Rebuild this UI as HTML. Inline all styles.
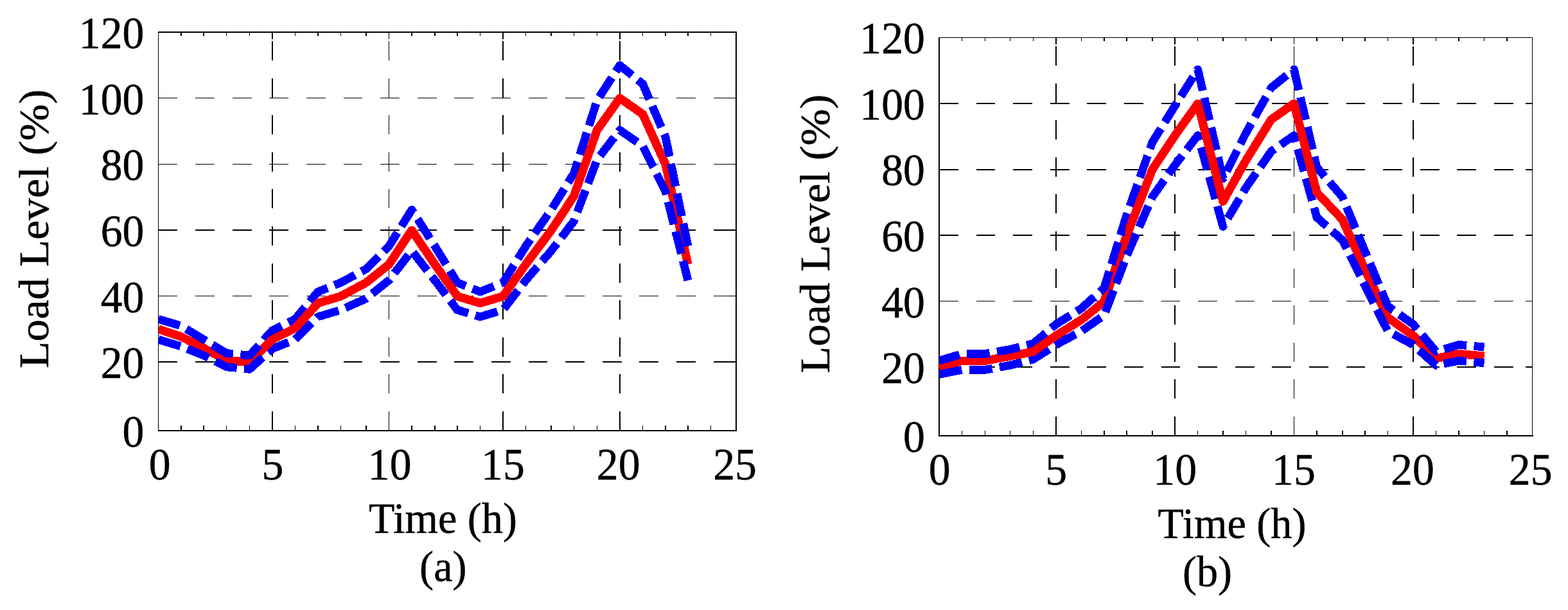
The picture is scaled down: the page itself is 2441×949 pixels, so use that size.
<!DOCTYPE html>
<html lang="en">
<head>
<meta charset="utf-8">
<title>Load Level vs Time</title>
<style>
html,body{margin:0;padding:0;background:#fff;}
body{width:2441px;height:949px;overflow:hidden;}
svg{display:block;}
</style>
</head>
<body>
<svg width="2441" height="949" viewBox="0 0 2441 949" role="img" aria-label="Load level versus time, panels (a) and (b)">
<rect width="2441" height="949" fill="#fff"/>
<g stroke="#000" stroke-dasharray="30 27.6" fill="none" shape-rendering="crispEdges"><line x1="424" y1="670" x2="424" y2="50" stroke-width="2"/><line x1="605.5" y1="670" x2="605.5" y2="50" stroke-width="1"/><line x1="783" y1="670" x2="783" y2="50" stroke-width="2"/><line x1="965" y1="670" x2="965" y2="50" stroke-width="2"/></g>
<g stroke="#000" stroke-dasharray="29.8 27.8" fill="none" shape-rendering="crispEdges"><line x1="246.5" y1="563" x2="1146" y2="563" stroke-width="2"/><line x1="246.5" y1="460.5" x2="1146" y2="460.5" stroke-width="1"/><line x1="246.5" y1="358" x2="1146" y2="358" stroke-width="2"/><line x1="246.5" y1="255.5" x2="1146" y2="255.5" stroke-width="1"/><line x1="246.5" y1="152.5" x2="1146" y2="152.5" stroke-width="1"/></g>
<g stroke="#000" stroke-width="1.5" fill="none" shape-rendering="crispEdges"><line x1="282" y1="670" x2="282" y2="662"/><line x1="282" y1="50" x2="282" y2="55.5"/><line x1="317.2" y1="670" x2="317.2" y2="662"/><line x1="317.2" y1="50" x2="317.2" y2="55.5"/><line x1="352.5" y1="670" x2="352.5" y2="662"/><line x1="352.5" y1="50" x2="352.5" y2="55.5"/><line x1="388.5" y1="670" x2="388.5" y2="662"/><line x1="388.5" y1="50" x2="388.5" y2="55.5"/><line x1="459.5" y1="670" x2="459.5" y2="662"/><line x1="459.5" y1="50" x2="459.5" y2="55.5"/><line x1="495" y1="670" x2="495" y2="662"/><line x1="495" y1="50" x2="495" y2="55.5"/><line x1="530.5" y1="670" x2="530.5" y2="662"/><line x1="530.5" y1="50" x2="530.5" y2="55.5"/><line x1="570" y1="670" x2="570" y2="662"/><line x1="570" y1="50" x2="570" y2="55.5"/><line x1="641" y1="670" x2="641" y2="662"/><line x1="641" y1="50" x2="641" y2="55.5"/><line x1="677" y1="670" x2="677" y2="662"/><line x1="677" y1="50" x2="677" y2="55.5"/><line x1="712" y1="670" x2="712" y2="662"/><line x1="712" y1="50" x2="712" y2="55.5"/><line x1="747.5" y1="670" x2="747.5" y2="662"/><line x1="747.5" y1="50" x2="747.5" y2="55.5"/><line x1="818.4" y1="670" x2="818.4" y2="662"/><line x1="818.4" y1="50" x2="818.4" y2="55.5"/><line x1="858.2" y1="670" x2="858.2" y2="662"/><line x1="858.2" y1="50" x2="858.2" y2="55.5"/><line x1="893.4" y1="670" x2="893.4" y2="662"/><line x1="893.4" y1="50" x2="893.4" y2="55.5"/><line x1="929.5" y1="670" x2="929.5" y2="662"/><line x1="929.5" y1="50" x2="929.5" y2="55.5"/><line x1="1000.5" y1="670" x2="1000.5" y2="662"/><line x1="1000.5" y1="50" x2="1000.5" y2="55.5"/><line x1="1036" y1="670" x2="1036" y2="662"/><line x1="1036" y1="50" x2="1036" y2="55.5"/><line x1="1071" y1="670" x2="1071" y2="662"/><line x1="1071" y1="50" x2="1071" y2="55.5"/><line x1="1106.4" y1="670" x2="1106.4" y2="662"/><line x1="1106.4" y1="50" x2="1106.4" y2="55.5"/></g>
<g stroke="#000" fill="none" shape-rendering="crispEdges"><line x1="424" y1="50" x2="424" y2="60.5" stroke-width="2"/><line x1="424" y1="670" x2="424" y2="659.5" stroke-width="2"/><line x1="605.5" y1="50" x2="605.5" y2="60.5" stroke-width="1"/><line x1="605.5" y1="670" x2="605.5" y2="659.5" stroke-width="1"/><line x1="783" y1="50" x2="783" y2="60.5" stroke-width="2"/><line x1="783" y1="670" x2="783" y2="659.5" stroke-width="2"/><line x1="965" y1="50" x2="965" y2="60.5" stroke-width="2"/><line x1="965" y1="670" x2="965" y2="659.5" stroke-width="2"/><line x1="1146" y1="563" x2="1135.5" y2="563" stroke-width="2"/><line x1="246.5" y1="563" x2="257" y2="563" stroke-width="2"/><line x1="1146" y1="460.5" x2="1135.5" y2="460.5" stroke-width="1"/><line x1="246.5" y1="460.5" x2="257" y2="460.5" stroke-width="1"/><line x1="1146" y1="358" x2="1135.5" y2="358" stroke-width="2"/><line x1="246.5" y1="358" x2="257" y2="358" stroke-width="2"/><line x1="1146" y1="255.5" x2="1135.5" y2="255.5" stroke-width="1"/><line x1="246.5" y1="255.5" x2="257" y2="255.5" stroke-width="1"/><line x1="1146" y1="152.5" x2="1135.5" y2="152.5" stroke-width="1"/><line x1="246.5" y1="152.5" x2="257" y2="152.5" stroke-width="1"/></g>
<g stroke="#000" fill="none" stroke-linecap="square" shape-rendering="crispEdges"><line x1="246.5" y1="50" x2="246.5" y2="670" stroke-width="1"/><line x1="1146" y1="50" x2="1146" y2="670" stroke-width="2"/><line x1="246.5" y1="50" x2="1146" y2="50" stroke-width="2"/><line x1="246.5" y1="670" x2="1146" y2="670" stroke-width="2"/></g>
<clipPath id="top0"><rect x="411" y="50" width="611" height="620"/></clipPath>
<clipPath id="clip0"><rect x="246.5" y="50" width="899.5" height="620"/></clipPath>
<g fill="none" stroke-linejoin="round" stroke-miterlimit="10" shape-rendering="crispEdges" clip-path="url(#clip0)"><polyline points="246.5,511.98 282,523.67 317.2,541.74 352.5,560.17 388.5,563.71 423.9,528.28 459.5,510.56 495,471.59 530.5,460.96 570,439.7 605.4,411.36 641,358.22 677,411.36 712,460.96 747.5,471.59 783,460.96 818.4,411.36 858.2,358.22 893.4,305.07 929.5,202.32 964.9,152.72 1000.5,177.52 1036,255.47 1071,411.36" stroke="#ff0000" stroke-width="13.3"/><polyline points="246.5,496.39 282,507.02 317.2,528.28 352.5,549.54 388.5,553.08 423.9,514.11 459.5,496.39 495,453.88 530.5,439.7 570,418.45 605.4,383.02 641,326.33 677,383.02 712,439.7 747.5,453.88 783,439.7 818.4,383.02 858.2,326.33 893.4,269.64 929.5,156.26 964.9,101.7 1000.5,130.4 1036,212.95 1071,383.02" stroke="#0000ff" stroke-width="12.8" stroke-dasharray="36 11.4" stroke-dashoffset="1"/><polyline points="246.5,528.28 282,538.91 317.2,553.08 352.5,570.8 388.5,574.34 423.9,542.45 459.5,528.28 495,492.85 530.5,482.22 570,464.51 605.4,436.16 641,390.1 677,436.16 712,482.22 747.5,492.85 783,482.22 818.4,436.16 858.2,390.1 893.4,344.04 929.5,248.38 964.9,202.32 1000.5,227.12 1036,297.98 1071,436.16" stroke="#0000ff" stroke-width="12.8" stroke-dasharray="36 11.4" stroke-dashoffset="0"/><polyline points="246.5,511.98 282,523.67 317.2,541.74 352.5,560.17 388.5,563.71 423.9,528.28 459.5,510.56 495,471.59 530.5,460.96 570,439.7 605.4,411.36 641,358.22 677,411.36 712,460.96 747.5,471.59 783,460.96 818.4,411.36 858.2,358.22 893.4,305.07 929.5,202.32 964.9,152.72 1000.5,177.52 1036,255.47 1071,411.36" stroke="#ff0000" stroke-width="13.3" clip-path="url(#top0)"/></g>
<g font-family="'Liberation Serif', 'Times New Roman', Times, serif" fill="#000" stroke="#000" stroke-width="0.5" stroke-linejoin="round"><text transform="translate(248.6 746) scale(0.964 1)" text-anchor="middle" font-size="70.3">0</text><text transform="translate(424.5 746) scale(0.964 1)" text-anchor="middle" font-size="70.3">5</text><text transform="translate(606.7 746) scale(0.964 1)" text-anchor="middle" font-size="70.3">10</text><text transform="translate(783 746) scale(0.964 1)" text-anchor="middle" font-size="70.3">15</text><text transform="translate(962.7 746) scale(0.964 1)" text-anchor="middle" font-size="70.3">20</text><text transform="translate(1144.1 746) scale(0.964 1)" text-anchor="middle" font-size="70.3">25</text><text transform="translate(224.5 695) scale(0.964 1)" text-anchor="end" font-size="70.3">0</text><text transform="translate(224.5 588.3) scale(0.964 1)" text-anchor="end" font-size="70.3">20</text><text transform="translate(224.5 486.4) scale(0.964 1)" text-anchor="end" font-size="70.3">40</text><text transform="translate(224.5 383) scale(0.964 1)" text-anchor="end" font-size="70.3">60</text><text transform="translate(224.5 280) scale(0.964 1)" text-anchor="end" font-size="70.3">80</text><text transform="translate(224.5 178) scale(0.964 1)" text-anchor="end" font-size="70.3">100</text><text transform="translate(224.5 75.3) scale(0.964 1)" text-anchor="end" font-size="70.3">120</text><text transform="translate(689.5 829) scale(0.964 1)" text-anchor="middle" font-size="68.6">Time (h)</text><text transform="translate(689.8 904) scale(0.964 1)" text-anchor="middle" font-size="68.6">(a)</text><text transform="translate(75.3 356) scale(0.964 1) rotate(-90)" text-anchor="middle" font-size="68.6">Load Level (%)</text></g>
<g stroke="#000" stroke-dasharray="30 27.6" fill="none" shape-rendering="crispEdges"><line x1="1644" y1="678" x2="1644" y2="58.5" stroke-width="2"/><line x1="1829" y1="678" x2="1829" y2="58.5" stroke-width="2"/><line x1="2014.5" y1="678" x2="2014.5" y2="58.5" stroke-width="1"/><line x1="2200" y1="678" x2="2200" y2="58.5" stroke-width="2"/></g>
<g stroke="#000" stroke-dasharray="29.8 27.8" fill="none" shape-rendering="crispEdges"><line x1="1462" y1="571" x2="2385.5" y2="571" stroke-width="2"/><line x1="1462" y1="468.5" x2="2385.5" y2="468.5" stroke-width="1"/><line x1="1462" y1="366" x2="2385.5" y2="366" stroke-width="2"/><line x1="1462" y1="264" x2="2385.5" y2="264" stroke-width="2"/><line x1="1462" y1="161" x2="2385.5" y2="161" stroke-width="2"/></g>
<g stroke="#000" stroke-width="1.5" fill="none" shape-rendering="crispEdges"><line x1="1497.6" y1="678" x2="1497.6" y2="670"/><line x1="1497.6" y1="58.5" x2="1497.6" y2="64"/><line x1="1533.4" y1="678" x2="1533.4" y2="670"/><line x1="1533.4" y1="58.5" x2="1533.4" y2="64"/><line x1="1572.5" y1="678" x2="1572.5" y2="670"/><line x1="1572.5" y1="58.5" x2="1572.5" y2="64"/><line x1="1608.4" y1="678" x2="1608.4" y2="670"/><line x1="1608.4" y1="58.5" x2="1608.4" y2="64"/><line x1="1683.5" y1="678" x2="1683.5" y2="670"/><line x1="1683.5" y1="58.5" x2="1683.5" y2="64"/><line x1="1718.9" y1="678" x2="1718.9" y2="670"/><line x1="1718.9" y1="58.5" x2="1718.9" y2="64"/><line x1="1753.9" y1="678" x2="1753.9" y2="670"/><line x1="1753.9" y1="58.5" x2="1753.9" y2="64"/><line x1="1793.9" y1="678" x2="1793.9" y2="670"/><line x1="1793.9" y1="58.5" x2="1793.9" y2="64"/><line x1="1864.7" y1="678" x2="1864.7" y2="670"/><line x1="1864.7" y1="58.5" x2="1864.7" y2="64"/><line x1="1903.9" y1="678" x2="1903.9" y2="670"/><line x1="1903.9" y1="58.5" x2="1903.9" y2="64"/><line x1="1939.5" y1="678" x2="1939.5" y2="670"/><line x1="1939.5" y1="58.5" x2="1939.5" y2="64"/><line x1="1979" y1="678" x2="1979" y2="670"/><line x1="1979" y1="58.5" x2="1979" y2="64"/><line x1="2049.9" y1="678" x2="2049.9" y2="670"/><line x1="2049.9" y1="58.5" x2="2049.9" y2="64"/><line x1="2089.8" y1="678" x2="2089.8" y2="670"/><line x1="2089.8" y1="58.5" x2="2089.8" y2="64"/><line x1="2125.1" y1="678" x2="2125.1" y2="670"/><line x1="2125.1" y1="58.5" x2="2125.1" y2="64"/><line x1="2160.5" y1="678" x2="2160.5" y2="670"/><line x1="2160.5" y1="58.5" x2="2160.5" y2="64"/><line x1="2235.5" y1="678" x2="2235.5" y2="670"/><line x1="2235.5" y1="58.5" x2="2235.5" y2="64"/><line x1="2270.9" y1="678" x2="2270.9" y2="670"/><line x1="2270.9" y1="58.5" x2="2270.9" y2="64"/><line x1="2310.6" y1="678" x2="2310.6" y2="670"/><line x1="2310.6" y1="58.5" x2="2310.6" y2="64"/><line x1="2345.9" y1="678" x2="2345.9" y2="670"/><line x1="2345.9" y1="58.5" x2="2345.9" y2="64"/></g>
<g stroke="#000" fill="none" shape-rendering="crispEdges"><line x1="1644" y1="58.5" x2="1644" y2="69" stroke-width="2"/><line x1="1644" y1="678" x2="1644" y2="667.5" stroke-width="2"/><line x1="1829" y1="58.5" x2="1829" y2="69" stroke-width="2"/><line x1="1829" y1="678" x2="1829" y2="667.5" stroke-width="2"/><line x1="2014.5" y1="58.5" x2="2014.5" y2="69" stroke-width="1"/><line x1="2014.5" y1="678" x2="2014.5" y2="667.5" stroke-width="1"/><line x1="2200" y1="58.5" x2="2200" y2="69" stroke-width="2"/><line x1="2200" y1="678" x2="2200" y2="667.5" stroke-width="2"/><line x1="2385.5" y1="571" x2="2375" y2="571" stroke-width="2"/><line x1="1462" y1="571" x2="1472.5" y2="571" stroke-width="2"/><line x1="2385.5" y1="468.5" x2="2375" y2="468.5" stroke-width="1"/><line x1="1462" y1="468.5" x2="1472.5" y2="468.5" stroke-width="1"/><line x1="2385.5" y1="366" x2="2375" y2="366" stroke-width="2"/><line x1="1462" y1="366" x2="1472.5" y2="366" stroke-width="2"/><line x1="2385.5" y1="264" x2="2375" y2="264" stroke-width="2"/><line x1="1462" y1="264" x2="1472.5" y2="264" stroke-width="2"/><line x1="2385.5" y1="161" x2="2375" y2="161" stroke-width="2"/><line x1="1462" y1="161" x2="1472.5" y2="161" stroke-width="2"/></g>
<g stroke="#000" fill="none" stroke-linecap="square" shape-rendering="crispEdges"><line x1="1462" y1="58.5" x2="1462" y2="678" stroke-width="2"/><line x1="2385.5" y1="58.5" x2="2385.5" y2="678" stroke-width="1"/><line x1="1462" y1="58.5" x2="2385.5" y2="58.5" stroke-width="1"/><line x1="1462" y1="678" x2="2385.5" y2="678" stroke-width="2"/></g>
<clipPath id="top1"><rect x="1595" y="58.5" width="121" height="619.5"/><rect x="1752" y="58.5" width="353" height="619.5"/></clipPath>
<clipPath id="clip1"><rect x="1462" y="58.5" width="923.5" height="619.5"/></clipPath>
<g fill="none" stroke-linejoin="round" stroke-miterlimit="10" shape-rendering="crispEdges" clip-path="url(#clip1)"><polyline points="1462.1,571.8 1497.6,561.18 1533.4,561.18 1572.5,554.1 1608.4,547.02 1643.9,522.24 1683.5,497.46 1718.9,469.14 1753.9,366.48 1793.9,263.82 1829.1,210.72 1864.7,161.16 1903.9,313.38 1939.5,249.66 1979,185.94 2014.4,161.16 2049.9,299.22 2089.8,341.7 2125.1,419.58 2160.5,493.92 2200,522.24 2235.5,557.64 2270.9,550.56 2310.6,554.1" stroke="#ff0000" stroke-width="13.3"/><polyline points="1462.1,561.18 1497.6,550.56 1533.4,550.56 1572.5,543.48 1608.4,534.63 1643.9,504.54 1683.5,479.76 1718.9,447.9 1753.9,334.62 1793.9,221.34 1829.1,164.7 1864.7,108.06 1903.9,277.98 1939.5,207.18 1979,136.38 2014.4,108.06 2049.9,260.28 2089.8,306.3 2125.1,391.26 2160.5,476.22 2200,504.54 2235.5,547.02 2270.9,536.4 2310.6,539.94" stroke="#0000ff" stroke-width="12.8" stroke-dasharray="36 11.4" stroke-dashoffset="3"/><polyline points="1462.1,582.42 1497.6,575.34 1533.4,575.34 1572.5,568.26 1608.4,559.06 1643.9,536.4 1683.5,515.16 1718.9,490.38 1753.9,398.34 1793.9,306.3 1829.1,256.74 1864.7,210.72 1903.9,352.32 1939.5,292.14 1979,235.5 2014.4,210.72 2049.9,338.16 2089.8,373.56 2125.1,444.36 2160.5,515.16 2200,536.4 2235.5,568.26 2270.9,561.18 2310.6,564.72" stroke="#0000ff" stroke-width="12.8" stroke-dasharray="36 11.4" stroke-dashoffset="0"/><polyline points="1462.1,571.8 1497.6,561.18 1533.4,561.18 1572.5,554.1 1608.4,547.02 1643.9,522.24 1683.5,497.46 1718.9,469.14 1753.9,366.48 1793.9,263.82 1829.1,210.72 1864.7,161.16 1903.9,313.38 1939.5,249.66 1979,185.94 2014.4,161.16 2049.9,299.22 2089.8,341.7 2125.1,419.58 2160.5,493.92 2200,522.24 2235.5,557.64 2270.9,550.56 2310.6,554.1" stroke="#ff0000" stroke-width="13.3" clip-path="url(#top1)"/></g>
<g font-family="'Liberation Serif', 'Times New Roman', Times, serif" fill="#000" stroke="#000" stroke-width="0.5" stroke-linejoin="round"><text transform="translate(1462.8 754.3) scale(0.964 1)" text-anchor="middle" font-size="70.3">0</text><text transform="translate(1644.1 754.3) scale(0.964 1)" text-anchor="middle" font-size="70.3">5</text><text transform="translate(1829.2 754.3) scale(0.964 1)" text-anchor="middle" font-size="70.3">10</text><text transform="translate(2013.9 754.3) scale(0.964 1)" text-anchor="middle" font-size="70.3">15</text><text transform="translate(2198.9 754.3) scale(0.964 1)" text-anchor="middle" font-size="70.3">20</text><text transform="translate(2382.7 754.3) scale(0.964 1)" text-anchor="middle" font-size="70.3">25</text><text transform="translate(1440 703) scale(0.964 1)" text-anchor="end" font-size="70.3">0</text><text transform="translate(1440 596) scale(0.964 1)" text-anchor="end" font-size="70.3">20</text><text transform="translate(1440 494) scale(0.964 1)" text-anchor="end" font-size="70.3">40</text><text transform="translate(1440 391) scale(0.964 1)" text-anchor="end" font-size="70.3">60</text><text transform="translate(1440 288) scale(0.964 1)" text-anchor="end" font-size="70.3">80</text><text transform="translate(1440 186) scale(0.964 1)" text-anchor="end" font-size="70.3">100</text><text transform="translate(1440 83) scale(0.964 1)" text-anchor="end" font-size="70.3">120</text><text transform="translate(1918 837) scale(0.964 1)" text-anchor="middle" font-size="68.6">Time (h)</text><text transform="translate(1879.5 911.7) scale(0.964 1)" text-anchor="middle" font-size="68.6">(b)</text><text transform="translate(1291 363.7) scale(0.964 1) rotate(-90)" text-anchor="middle" font-size="68.6">Load Level (%)</text></g>
</svg>
</body>
</html>
